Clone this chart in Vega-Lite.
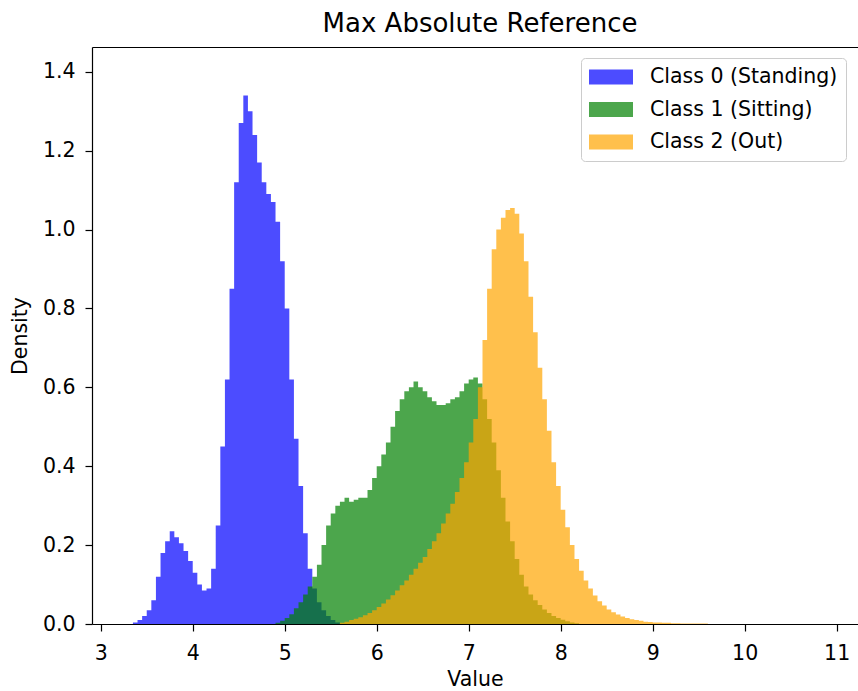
{
  "$schema": "https://vega.github.io/schema/vega-lite/v6.json",
  "width": 766,
  "height": 577,
  "autosize": {"type": "none"},
  "padding": {"left": 92, "top": 47, "right": 0, "bottom": 67},
  "background": "white",
  "config": {
    "view": {"stroke": null},
    "font": "DejaVu Sans",
    "axis": {"grid": false, "domainColor": "black", "domainWidth": 1.2, "tickColor": "black", "tickWidth": 1.2, "tickSize": 7, "labelColor": "black", "labelFontSize": 20.5, "labelFont": "DejaVu Sans", "titleFont": "DejaVu Sans", "titleFontSize": 20.5, "titleFontWeight": "normal", "titleColor": "black"}
  },
  "title": {"text": "Max Absolute Reference", "font": "DejaVu Sans", "fontSize": 26, "fontWeight": "normal", "color": "black", "offset": 10, "dx": 5},
  "data": {"values": [
    {"cls": "Class 0 (Standing)", "value": 3.35, "density": 0.004},
    {"cls": "Class 0 (Standing)", "value": 3.40, "density": 0.01},
    {"cls": "Class 0 (Standing)", "value": 3.45, "density": 0.02},
    {"cls": "Class 0 (Standing)", "value": 3.50, "density": 0.035},
    {"cls": "Class 0 (Standing)", "value": 3.55, "density": 0.06},
    {"cls": "Class 0 (Standing)", "value": 3.60, "density": 0.12},
    {"cls": "Class 0 (Standing)", "value": 3.65, "density": 0.18},
    {"cls": "Class 0 (Standing)", "value": 3.70, "density": 0.21},
    {"cls": "Class 0 (Standing)", "value": 3.75, "density": 0.235},
    {"cls": "Class 0 (Standing)", "value": 3.80, "density": 0.22},
    {"cls": "Class 0 (Standing)", "value": 3.85, "density": 0.205},
    {"cls": "Class 0 (Standing)", "value": 3.90, "density": 0.185},
    {"cls": "Class 0 (Standing)", "value": 3.95, "density": 0.16},
    {"cls": "Class 0 (Standing)", "value": 4.00, "density": 0.13},
    {"cls": "Class 0 (Standing)", "value": 4.05, "density": 0.10},
    {"cls": "Class 0 (Standing)", "value": 4.10, "density": 0.085},
    {"cls": "Class 0 (Standing)", "value": 4.15, "density": 0.09},
    {"cls": "Class 0 (Standing)", "value": 4.20, "density": 0.14},
    {"cls": "Class 0 (Standing)", "value": 4.25, "density": 0.25},
    {"cls": "Class 0 (Standing)", "value": 4.30, "density": 0.45},
    {"cls": "Class 0 (Standing)", "value": 4.35, "density": 0.62},
    {"cls": "Class 0 (Standing)", "value": 4.40, "density": 0.85},
    {"cls": "Class 0 (Standing)", "value": 4.45, "density": 1.12},
    {"cls": "Class 0 (Standing)", "value": 4.50, "density": 1.27},
    {"cls": "Class 0 (Standing)", "value": 4.55, "density": 1.34},
    {"cls": "Class 0 (Standing)", "value": 4.60, "density": 1.30},
    {"cls": "Class 0 (Standing)", "value": 4.65, "density": 1.24},
    {"cls": "Class 0 (Standing)", "value": 4.70, "density": 1.17},
    {"cls": "Class 0 (Standing)", "value": 4.75, "density": 1.12},
    {"cls": "Class 0 (Standing)", "value": 4.80, "density": 1.09},
    {"cls": "Class 0 (Standing)", "value": 4.85, "density": 1.07},
    {"cls": "Class 0 (Standing)", "value": 4.90, "density": 1.02},
    {"cls": "Class 0 (Standing)", "value": 4.95, "density": 0.92},
    {"cls": "Class 0 (Standing)", "value": 5.00, "density": 0.80},
    {"cls": "Class 0 (Standing)", "value": 5.05, "density": 0.62},
    {"cls": "Class 0 (Standing)", "value": 5.10, "density": 0.47},
    {"cls": "Class 0 (Standing)", "value": 5.15, "density": 0.35},
    {"cls": "Class 0 (Standing)", "value": 5.20, "density": 0.23},
    {"cls": "Class 0 (Standing)", "value": 5.25, "density": 0.14},
    {"cls": "Class 0 (Standing)", "value": 5.30, "density": 0.09},
    {"cls": "Class 0 (Standing)", "value": 5.35, "density": 0.055},
    {"cls": "Class 0 (Standing)", "value": 5.40, "density": 0.035},
    {"cls": "Class 0 (Standing)", "value": 5.45, "density": 0.02},
    {"cls": "Class 0 (Standing)", "value": 5.50, "density": 0.01},
    {"cls": "Class 0 (Standing)", "value": 5.55, "density": 0.004},
    {"cls": "Class 0 (Standing)", "value": 5.60, "density": 0},
    {"cls": "Class 1 (Sitting)", "value": 4.90, "density": 0.003},
    {"cls": "Class 1 (Sitting)", "value": 4.95, "density": 0.008},
    {"cls": "Class 1 (Sitting)", "value": 5.00, "density": 0.015},
    {"cls": "Class 1 (Sitting)", "value": 5.05, "density": 0.025},
    {"cls": "Class 1 (Sitting)", "value": 5.10, "density": 0.04},
    {"cls": "Class 1 (Sitting)", "value": 5.15, "density": 0.055},
    {"cls": "Class 1 (Sitting)", "value": 5.20, "density": 0.075},
    {"cls": "Class 1 (Sitting)", "value": 5.25, "density": 0.095},
    {"cls": "Class 1 (Sitting)", "value": 5.30, "density": 0.12},
    {"cls": "Class 1 (Sitting)", "value": 5.35, "density": 0.15},
    {"cls": "Class 1 (Sitting)", "value": 5.40, "density": 0.20},
    {"cls": "Class 1 (Sitting)", "value": 5.45, "density": 0.25},
    {"cls": "Class 1 (Sitting)", "value": 5.50, "density": 0.28},
    {"cls": "Class 1 (Sitting)", "value": 5.55, "density": 0.30},
    {"cls": "Class 1 (Sitting)", "value": 5.60, "density": 0.31},
    {"cls": "Class 1 (Sitting)", "value": 5.65, "density": 0.32},
    {"cls": "Class 1 (Sitting)", "value": 5.70, "density": 0.31},
    {"cls": "Class 1 (Sitting)", "value": 5.75, "density": 0.315},
    {"cls": "Class 1 (Sitting)", "value": 5.80, "density": 0.32},
    {"cls": "Class 1 (Sitting)", "value": 5.85, "density": 0.32},
    {"cls": "Class 1 (Sitting)", "value": 5.90, "density": 0.34},
    {"cls": "Class 1 (Sitting)", "value": 5.95, "density": 0.37},
    {"cls": "Class 1 (Sitting)", "value": 6.00, "density": 0.40},
    {"cls": "Class 1 (Sitting)", "value": 6.05, "density": 0.43},
    {"cls": "Class 1 (Sitting)", "value": 6.10, "density": 0.46},
    {"cls": "Class 1 (Sitting)", "value": 6.15, "density": 0.50},
    {"cls": "Class 1 (Sitting)", "value": 6.20, "density": 0.54},
    {"cls": "Class 1 (Sitting)", "value": 6.25, "density": 0.57},
    {"cls": "Class 1 (Sitting)", "value": 6.30, "density": 0.59},
    {"cls": "Class 1 (Sitting)", "value": 6.35, "density": 0.60},
    {"cls": "Class 1 (Sitting)", "value": 6.40, "density": 0.615},
    {"cls": "Class 1 (Sitting)", "value": 6.45, "density": 0.60},
    {"cls": "Class 1 (Sitting)", "value": 6.50, "density": 0.59},
    {"cls": "Class 1 (Sitting)", "value": 6.55, "density": 0.575},
    {"cls": "Class 1 (Sitting)", "value": 6.60, "density": 0.565},
    {"cls": "Class 1 (Sitting)", "value": 6.65, "density": 0.555},
    {"cls": "Class 1 (Sitting)", "value": 6.70, "density": 0.555},
    {"cls": "Class 1 (Sitting)", "value": 6.75, "density": 0.56},
    {"cls": "Class 1 (Sitting)", "value": 6.80, "density": 0.57},
    {"cls": "Class 1 (Sitting)", "value": 6.85, "density": 0.575},
    {"cls": "Class 1 (Sitting)", "value": 6.90, "density": 0.59},
    {"cls": "Class 1 (Sitting)", "value": 6.95, "density": 0.61},
    {"cls": "Class 1 (Sitting)", "value": 7.00, "density": 0.62},
    {"cls": "Class 1 (Sitting)", "value": 7.05, "density": 0.625},
    {"cls": "Class 1 (Sitting)", "value": 7.10, "density": 0.61},
    {"cls": "Class 1 (Sitting)", "value": 7.15, "density": 0.57},
    {"cls": "Class 1 (Sitting)", "value": 7.20, "density": 0.52},
    {"cls": "Class 1 (Sitting)", "value": 7.25, "density": 0.46},
    {"cls": "Class 1 (Sitting)", "value": 7.30, "density": 0.39},
    {"cls": "Class 1 (Sitting)", "value": 7.35, "density": 0.32},
    {"cls": "Class 1 (Sitting)", "value": 7.40, "density": 0.26},
    {"cls": "Class 1 (Sitting)", "value": 7.45, "density": 0.21},
    {"cls": "Class 1 (Sitting)", "value": 7.50, "density": 0.165},
    {"cls": "Class 1 (Sitting)", "value": 7.55, "density": 0.125},
    {"cls": "Class 1 (Sitting)", "value": 7.60, "density": 0.095},
    {"cls": "Class 1 (Sitting)", "value": 7.65, "density": 0.075},
    {"cls": "Class 1 (Sitting)", "value": 7.70, "density": 0.06},
    {"cls": "Class 1 (Sitting)", "value": 7.75, "density": 0.048},
    {"cls": "Class 1 (Sitting)", "value": 7.80, "density": 0.037},
    {"cls": "Class 1 (Sitting)", "value": 7.85, "density": 0.028},
    {"cls": "Class 1 (Sitting)", "value": 7.90, "density": 0.02},
    {"cls": "Class 1 (Sitting)", "value": 7.95, "density": 0.015},
    {"cls": "Class 1 (Sitting)", "value": 8.00, "density": 0.011},
    {"cls": "Class 1 (Sitting)", "value": 8.05, "density": 0.007},
    {"cls": "Class 1 (Sitting)", "value": 8.10, "density": 0.004},
    {"cls": "Class 1 (Sitting)", "value": 8.15, "density": 0.002},
    {"cls": "Class 1 (Sitting)", "value": 8.20, "density": 0},
    {"cls": "Class 2 (Out)", "value": 5.60, "density": 0.003},
    {"cls": "Class 2 (Out)", "value": 5.65, "density": 0.006},
    {"cls": "Class 2 (Out)", "value": 5.70, "density": 0.01},
    {"cls": "Class 2 (Out)", "value": 5.75, "density": 0.013},
    {"cls": "Class 2 (Out)", "value": 5.80, "density": 0.017},
    {"cls": "Class 2 (Out)", "value": 5.85, "density": 0.022},
    {"cls": "Class 2 (Out)", "value": 5.90, "density": 0.028},
    {"cls": "Class 2 (Out)", "value": 5.95, "density": 0.035},
    {"cls": "Class 2 (Out)", "value": 6.00, "density": 0.043},
    {"cls": "Class 2 (Out)", "value": 6.05, "density": 0.052},
    {"cls": "Class 2 (Out)", "value": 6.10, "density": 0.062},
    {"cls": "Class 2 (Out)", "value": 6.15, "density": 0.073},
    {"cls": "Class 2 (Out)", "value": 6.20, "density": 0.085},
    {"cls": "Class 2 (Out)", "value": 6.25, "density": 0.098},
    {"cls": "Class 2 (Out)", "value": 6.30, "density": 0.11},
    {"cls": "Class 2 (Out)", "value": 6.35, "density": 0.125},
    {"cls": "Class 2 (Out)", "value": 6.40, "density": 0.14},
    {"cls": "Class 2 (Out)", "value": 6.45, "density": 0.155},
    {"cls": "Class 2 (Out)", "value": 6.50, "density": 0.17},
    {"cls": "Class 2 (Out)", "value": 6.55, "density": 0.19},
    {"cls": "Class 2 (Out)", "value": 6.60, "density": 0.21},
    {"cls": "Class 2 (Out)", "value": 6.65, "density": 0.23},
    {"cls": "Class 2 (Out)", "value": 6.70, "density": 0.255},
    {"cls": "Class 2 (Out)", "value": 6.75, "density": 0.28},
    {"cls": "Class 2 (Out)", "value": 6.80, "density": 0.305},
    {"cls": "Class 2 (Out)", "value": 6.85, "density": 0.335},
    {"cls": "Class 2 (Out)", "value": 6.90, "density": 0.37},
    {"cls": "Class 2 (Out)", "value": 6.95, "density": 0.41},
    {"cls": "Class 2 (Out)", "value": 7.00, "density": 0.46},
    {"cls": "Class 2 (Out)", "value": 7.05, "density": 0.52},
    {"cls": "Class 2 (Out)", "value": 7.10, "density": 0.60},
    {"cls": "Class 2 (Out)", "value": 7.15, "density": 0.72},
    {"cls": "Class 2 (Out)", "value": 7.20, "density": 0.85},
    {"cls": "Class 2 (Out)", "value": 7.25, "density": 0.95},
    {"cls": "Class 2 (Out)", "value": 7.30, "density": 1.00},
    {"cls": "Class 2 (Out)", "value": 7.35, "density": 1.03},
    {"cls": "Class 2 (Out)", "value": 7.40, "density": 1.05},
    {"cls": "Class 2 (Out)", "value": 7.45, "density": 1.055},
    {"cls": "Class 2 (Out)", "value": 7.50, "density": 1.04},
    {"cls": "Class 2 (Out)", "value": 7.55, "density": 0.99},
    {"cls": "Class 2 (Out)", "value": 7.60, "density": 0.92},
    {"cls": "Class 2 (Out)", "value": 7.65, "density": 0.83},
    {"cls": "Class 2 (Out)", "value": 7.70, "density": 0.74},
    {"cls": "Class 2 (Out)", "value": 7.75, "density": 0.65},
    {"cls": "Class 2 (Out)", "value": 7.80, "density": 0.57},
    {"cls": "Class 2 (Out)", "value": 7.85, "density": 0.49},
    {"cls": "Class 2 (Out)", "value": 7.90, "density": 0.41},
    {"cls": "Class 2 (Out)", "value": 7.95, "density": 0.35},
    {"cls": "Class 2 (Out)", "value": 8.00, "density": 0.29},
    {"cls": "Class 2 (Out)", "value": 8.05, "density": 0.245},
    {"cls": "Class 2 (Out)", "value": 8.10, "density": 0.20},
    {"cls": "Class 2 (Out)", "value": 8.15, "density": 0.165},
    {"cls": "Class 2 (Out)", "value": 8.20, "density": 0.135},
    {"cls": "Class 2 (Out)", "value": 8.25, "density": 0.11},
    {"cls": "Class 2 (Out)", "value": 8.30, "density": 0.09},
    {"cls": "Class 2 (Out)", "value": 8.35, "density": 0.072},
    {"cls": "Class 2 (Out)", "value": 8.40, "density": 0.058},
    {"cls": "Class 2 (Out)", "value": 8.45, "density": 0.047},
    {"cls": "Class 2 (Out)", "value": 8.50, "density": 0.037},
    {"cls": "Class 2 (Out)", "value": 8.55, "density": 0.03},
    {"cls": "Class 2 (Out)", "value": 8.60, "density": 0.024},
    {"cls": "Class 2 (Out)", "value": 8.65, "density": 0.019},
    {"cls": "Class 2 (Out)", "value": 8.70, "density": 0.015},
    {"cls": "Class 2 (Out)", "value": 8.75, "density": 0.012},
    {"cls": "Class 2 (Out)", "value": 8.80, "density": 0.01},
    {"cls": "Class 2 (Out)", "value": 8.85, "density": 0.008},
    {"cls": "Class 2 (Out)", "value": 8.90, "density": 0.006},
    {"cls": "Class 2 (Out)", "value": 8.95, "density": 0.005},
    {"cls": "Class 2 (Out)", "value": 9.00, "density": 0.004},
    {"cls": "Class 2 (Out)", "value": 9.10, "density": 0.003},
    {"cls": "Class 2 (Out)", "value": 9.20, "density": 0.002},
    {"cls": "Class 2 (Out)", "value": 9.30, "density": 0.0015},
    {"cls": "Class 2 (Out)", "value": 9.40, "density": 0.001},
    {"cls": "Class 2 (Out)", "value": 9.60, "density": 0}
  ]},
  "layer": [
    {
      "mark": {"type": "area", "interpolate": "step-after", "fillOpacity": 0.7},
      "encoding": {
        "x": {"field": "value", "type": "quantitative", "title": "Value",
              "scale": {"domain": [2.905, 11.232], "nice": false, "zero": false},
              "axis": {"values": [3, 4, 5, 6, 7, 8, 9, 10, 11], "format": "d", "labelPadding": 12, "titlePadding": 6}},
        "y": {"field": "density", "type": "quantitative", "title": "Density", "stack": null,
              "scale": {"domain": [0, 1.463], "nice": false},
              "axis": {"values": [0, 0.2, 0.4, 0.6, 0.8, 1.0, 1.2, 1.4], "format": ".1f", "labelPadding": 10, "titlePadding": 12}},
        "color": {"field": "cls", "type": "nominal",
                  "scale": {"domain": ["Class 0 (Standing)", "Class 1 (Sitting)", "Class 2 (Out)"], "range": ["#0000ff", "#008000", "#ffa500"]},
                  "legend": {"title": null, "orient": "none", "legendX": 489, "legendY": 11,
                             "symbolType": "M-1,-0.68L3,-0.68L3,0.68L-1,0.68Z", "symbolSize": 484, "symbolOpacity": 0.7, "symbolStrokeWidth": 0,
                             "labelFontSize": 20.5, "labelFont": "DejaVu Sans", "labelColor": "black", "labelOffset": 39, "labelLimit": 0,
                             "rowPadding": 10.5, "padding": 8, "fillColor": "white", "strokeColor": "#cccccc", "cornerRadius": 4}}
      }
    },
    {
      "mark": {"type": "point", "opacity": 0},
      "encoding": {
        "x": {"field": "value", "type": "quantitative",
              "axis": {"orient": "top", "labels": false, "ticks": false, "title": null}}
      }
    }
  ],
  "resolve": {"axis": {"x": "independent"}}
}
